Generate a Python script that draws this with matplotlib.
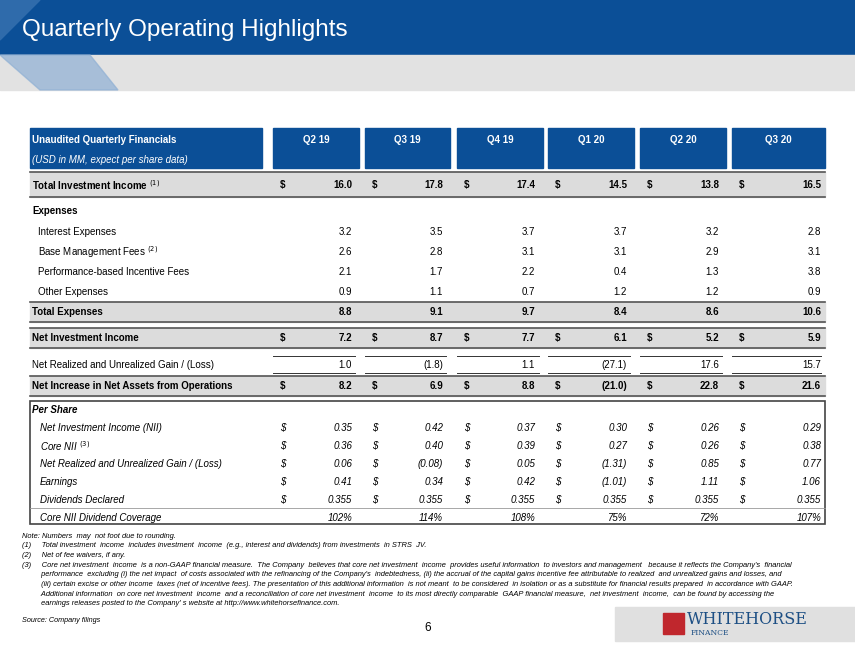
import matplotlib.pyplot as plt
from matplotlib.patches import Rectangle, Polygon

plt.rcParams['font.family'] = ['Liberation Sans', 'DejaVu Sans']

quarters = ["Q2 19", "Q3 19", "Q4 19", "Q1 20", "Q2 20", "Q3 20"]
total_income = ["16.0", "17.8", "17.4", "14.5", "13.8", "16.5"]
interest = ["3.2", "3.5", "3.7", "3.7", "3.2", "2.8"]
base_fees = ["2.6", "2.8", "3.1", "3.1", "2.9", "3.1"]
incentive = ["2.1", "1.7", "2.2", "0.4", "1.3", "3.8"]
other = ["0.9", "1.1", "0.7", "1.2", "1.2", "0.9"]
total_exp = ["8.8", "9.1", "9.7", "8.4", "8.6", "10.6"]
nii = ["7.2", "8.7", "7.7", "6.1", "5.2", "5.9"]
gain = ["1.0", "(1.8)", "1.1", "(27.1)", "17.6", "15.7"]
net_increase = ["8.2", "6.9", "8.8", "(21.0)", "22.8", "21.6"]
ps_nii = ["0.35", "0.42", "0.37", "0.30", "0.26", "0.29"]
ps_core = ["0.36", "0.40", "0.39", "0.27", "0.26", "0.38"]
ps_gain = ["0.06", "(0.08)", "0.05", "(1.31)", "0.85", "0.77"]
ps_earn = ["0.41", "0.34", "0.42", "(1.01)", "1.11", "1.06"]
ps_div = ["0.355"] * 6
coverage = ["102%", "114%", "108%", "75%", "72%", "107%"]

footnotes = [
    "Note: Numbers  may  not foot due to rounding.",
    "(1)     Total investment  income  includes investment  income  (e.g., interest and dividends) from investments  in STRS  JV.",
    "(2)     Net of fee waivers, if any.",
    "(3)     Core net investment  income  is a non-GAAP financial measure.  The Company  believes that core net investment  income  provides useful information  to investors and management   because it reflects the Company's  financial",
    "         performance  excluding (i) the net impact  of costs associated with the refinancing of the Company's  indebtedness, (ii) the accrual of the capital gains incentive fee attributable to realized  and unrealized gains and losses, and",
    "         (iii) certain excise or other income  taxes (net of incentive fees). The presentation of this additional information  is not meant  to be considered  in isolation or as a substitute for financial results prepared  in accordance with GAAP.",
    "         Additional information  on core net investment  income  and a reconciliation of core net investment  income  to its most directly comparable  GAAP financial measure,  net investment  income,  can be found by accessing the",
    "         earnings releases posted to the Company' s website at http://www.whitehorsefinance.com.",
]

BLUE = "#0b4f97"
GRAY = "#dcdcdc"
FS = 7.0

fig = plt.figure(figsize=(8.55, 6.54), dpi=100)
ax = fig.add_axes([0, 0, 1, 1])
ax.set_xlim(0, 855)
ax.set_ylim(654, 0)
ax.axis("off")

# banner
ax.add_patch(Rectangle((0, 0), 855, 55, color=BLUE))
ax.add_patch(Rectangle((0, 55), 855, 35, color="#e2e2e2"))
ax.add_patch(Polygon([(0, 55), (90, 55), (118, 90), (40, 90)], color="#8fb0d4", alpha=0.7))
ax.add_patch(Polygon([(0, 0), (40, 0), (0, 40)], color="#2f6bab"))
ax.text(22, 30, "Quarterly Operating Highlights", color="white", fontsize=17.5, va="center")

# header
ax.add_patch(Rectangle((30, 128), 232, 40, color=BLUE))
col_l = [273, 365, 457, 548, 640, 732]
col_r = [359, 450, 543, 634, 726, 825]
for l, r, q in zip(col_l, col_r, quarters):
    ax.add_patch(Rectangle((l, 128), r - l, 40, color=BLUE))
    ax.text((l + r) / 2, 140, q, color="white", fontsize=FS, weight="bold", ha="center", va="center")
ax.text(32, 140, "Unaudited Quarterly Financials", color="white", fontsize=FS, weight="bold", va="center")
ax.text(32, 160, "(USD in MM, expect per share data)", color="white", fontsize=FS, style="italic", va="center")

dollar_x = [283, 375, 467, 558, 650, 742]
val_x = [352, 443, 535, 627, 719, 821]


def band(y0, y1):
    ax.add_patch(Rectangle((30, y0), 795, y1 - y0, color=GRAY))
    ax.plot([30, 825], [y0, y0], color="#555", lw=1.2)
    ax.plot([30, 825], [y1, y1], color="#555", lw=1.2)


def row(y, label, vals, bold=False, dollar=False, italic=False, indent=0, fs=FS):
    w = "bold" if bold else "normal"
    st = "italic" if italic else "normal"
    ax.text(32 + indent, y, label, fontsize=fs, weight=w, style=st, va="center")
    if vals is None:
        return
    for i, v in enumerate(vals):
        if dollar:
            ax.text(dollar_x[i], y, "$", fontsize=fs, weight=w, style=st, va="center", ha="center")
        ax.text(val_x[i], y, v, fontsize=fs, weight=w, style=st, va="center", ha="right")


band(172, 197)
row(185, "Total Investment Income $^{(1)}$", total_income, bold=True, dollar=True)
row(211, "Expenses", None, bold=True)
row(232, "Interest Expenses", interest, indent=6)
row(252, "Base Management Fees $^{(2)}$", base_fees, indent=6)
row(272, "Performance-based Incentive Fees", incentive, indent=6)
row(292, "Other Expenses", other, indent=6)
band(302, 322)
row(312, "Total Expenses", total_exp, bold=True)
band(328, 348)
row(338, "Net Investment Income", nii, bold=True, dollar=True)
row(365, "Net Realized and Unrealized Gain / (Loss)", gain)
for l, r in zip(col_l, col_r):
    ax.plot([l, r - 4], [356, 356], color="#333", lw=0.7)
    ax.plot([l, r - 4], [373, 373], color="#333", lw=0.7)
band(376, 396)
row(386, "Net Increase in Net Assets from Operations", net_increase, bold=True, dollar=True)

# per share box
ax.add_patch(Rectangle((30, 401), 795, 123, fill=False, ec="#444", lw=1.2))
row(410, "Per Share", None, bold=True, italic=True)
ps_rows = [("Net Investment Income (NII)", ps_nii), ("Core NII $^{(3)}$", ps_core),
           ("Net Realized and Unrealized Gain / (Loss)", ps_gain),
           ("Earnings", ps_earn), ("Dividends Declared", ps_div)]
for k, (lab, vals) in enumerate(ps_rows):
    row(428 + 18 * k, lab, vals, italic=True, dollar=True, indent=8)
ax.plot([30, 825], [508, 508], color="#999", lw=0.6)
row(518, "Core NII Dividend Coverage", coverage, italic=True, indent=8)

for k, line in enumerate(footnotes):
    ax.text(22, 536 + 9.7 * k, line, fontsize=5.4, style="italic", va="center")
ax.text(22, 621, "Source: Company filings", fontsize=5.2, style="italic", va="center")
ax.text(428, 628, "6", fontsize=8.5, ha="center", va="center")

# footer logo band
ax.add_patch(Rectangle((615, 607), 240, 34, color="#e0e0e0"))
ax.add_patch(Rectangle((663, 613), 21, 21, color="#c0272d"))
ax.text(687, 620, "WHITEHORSE", fontsize=11.5, family="DejaVu Serif", color="#1d4f84", va="center")
ax.text(691, 633, "FINANCE", fontsize=5.5, family="DejaVu Serif", color="#1d4f84", va="center")

fig.savefig("out.png", dpi=100)
